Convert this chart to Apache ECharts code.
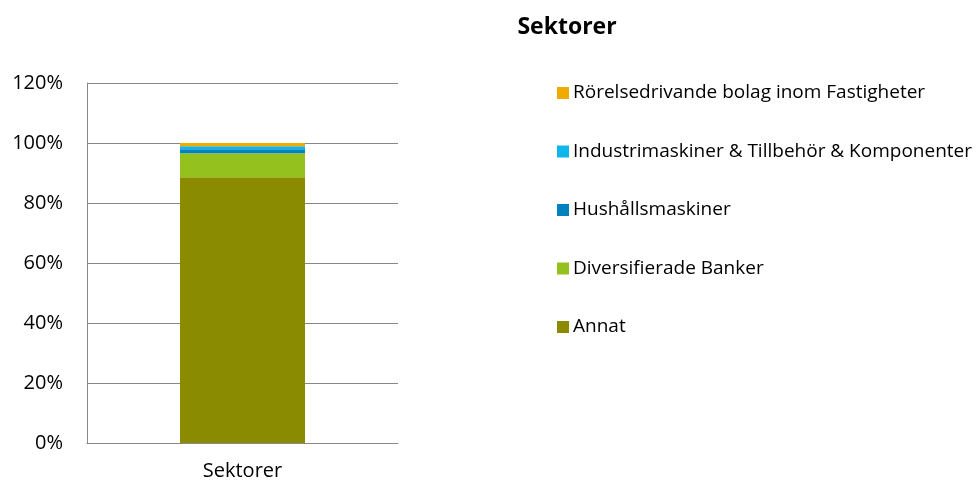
<!DOCTYPE html>
<html><head><meta charset="utf-8">
<script src="https://cdn.jsdelivr.net/npm/echarts@6/dist/echarts.min.js"></script>
<style>html,body{margin:0;padding:0;background:#fff}#c{width:977px;height:481px}</style>
</head><body><div id="c"></div>
<script>
const categories = ['Sektorer'];
const seriesNames = ['Annat', 'Diversifierade Banker', 'Hushållsmaskiner', 'Industrimaskiner & Tillbehör & Komponenter', 'Rörelsedrivande bolag inom Fastigheter'];
const annat = [88.6];
const diversifieradeBanker = [8.0];
const hushallsmaskiner = [1.3];
const industrimaskiner = [1.0];
const rorelsedrivande = [1.1];
const yTicks = [0, 20, 40, 60, 80, 100, 120];
const colors = ['#8b8b00', '#95c11f', '#0082bf', '#10b5ec', '#f0ab00'];
const values = [annat, diversifieradeBanker, hushallsmaskiner, industrimaskiner, rorelsedrivande];
const font = '"Open Sans", sans-serif';
const chart = echarts.init(document.getElementById('c'));
chart.setOption({
  animation: false,
  title: { text: 'Sektorer', left: 562, top: 11, textAlign: 'center',
    textStyle: { fontFamily: font, fontSize: 23, fontWeight: 'bold', color: '#000' } },
  legend: {
    orient: 'vertical', left: 552, top: 77, itemWidth: 12, itemHeight: 12, itemGap: 36.5,
    data: seriesNames.slice().reverse(),
    icon: 'rect',
    textStyle: { fontFamily: font, fontSize: 19, lineHeight: 22, color: '#000', padding: [0,0,0,-1] }
  },
  grid: { left: 87, top: 83, width: 311, height: 360 },
  xAxis: {
    type: 'category', data: categories,
    axisLine: { lineStyle: { color: '#888' } }, axisTick: { show: false },
    axisLabel: { fontFamily: font, fontSize: 20, color: '#000', margin: 18 }
  },
  yAxis: {
    type: 'value', min: yTicks[0], max: yTicks[yTicks.length-1], interval: 20,
    axisLine: { show: true, lineStyle: { color: '#888' } }, axisTick: { show: false },
    splitLine: { lineStyle: { color: '#888' } },
    axisLabel: { fontFamily: font, fontSize: 20, color: '#000', margin: 24, formatter: v => v + '%' }
  },
  series: seriesNames.map((n, i) => ({
    name: n, type: 'bar', stack: 'a', data: values[i], barWidth: 125,
    itemStyle: { color: colors[i] }
  }))
});
</script></body></html>
